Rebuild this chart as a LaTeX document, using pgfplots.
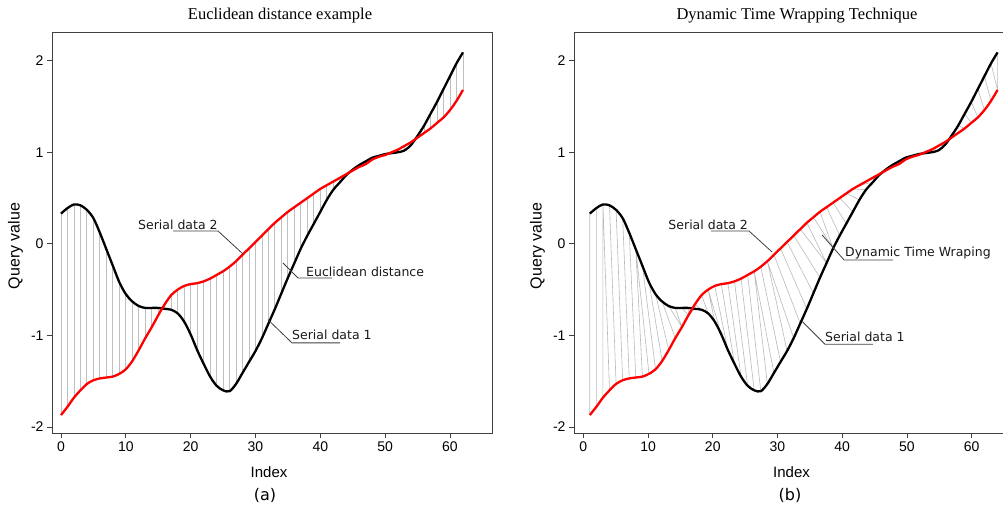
\documentclass[border=0pt]{standalone}
\usepackage{pgfplots}
\pgfplotsset{compat=1.18}
\usepackage{pgfplotstable}
\usepackage{fontspec}
\setmainfont{Liberation Sans}
\newfontfamily\verd{DejaVu Sans}
\newfontfamily\serifttl{Liberation Serif}

\pgfplotstableread{
k b r
0 0.33 -1.87
1 0.39 -1.78
2 0.43 -1.68
3 0.42 -1.60
4 0.37 -1.53
5 0.28 -1.49
6 0.12 -1.47
7 -0.06 -1.46
8 -0.24 -1.45
9 -0.42 -1.42
10 -0.55 -1.37
11 -0.63 -1.28
12 -0.68 -1.16
13 -0.70 -1.03
14 -0.70 -0.91
15 -0.70 -0.78
16 -0.71 -0.66
17 -0.72 -0.56
18 -0.76 -0.50
19 -0.85 -0.46
20 -0.99 -0.44
21 -1.16 -0.43
22 -1.31 -0.41
23 -1.45 -0.38
24 -1.55 -0.34
25 -1.60 -0.30
26 -1.61 -0.25
27 -1.53 -0.19
28 -1.41 -0.12
29 -1.29 -0.05
30 -1.17 0.02
31 -1.03 0.09
32 -0.87 0.16
33 -0.71 0.23
34 -0.54 0.29
35 -0.37 0.35
36 -0.21 0.40
37 -0.05 0.45
38 0.09 0.50
39 0.22 0.55
40 0.35 0.60
41 0.48 0.64
42 0.59 0.68
43 0.67 0.72
44 0.75 0.76
45 0.81 0.80
46 0.86 0.84
47 0.90 0.87
48 0.94 0.92
49 0.96 0.95
50 0.98 0.97
51 0.99 1.00
52 1.00 1.03
53 1.02 1.07
54 1.08 1.11
55 1.18 1.16
56 1.29 1.21
57 1.42 1.26
58 1.55 1.32
59 1.69 1.38
60 1.83 1.46
61 1.97 1.56
62 2.09 1.68
}\dtwdata

% Euclidean connections (same index)
\def\euclpath{}%
\foreach \i in {0,...,62}{%
  \pgfplotstablegetelem{\i}{b}\of\dtwdata\let\yb\pgfplotsretval
  \pgfplotstablegetelem{\i}{r}\of\dtwdata\let\yr\pgfplotsretval
  \xdef\euclpath{\euclpath (\i,\yb) (\i,\yr) (\i,nan)}%
}%

% DTW warping path (black index / red index)
\def\dtwpath{}%
\foreach \i/\j in {0/0,1/1,2/2,2/3,3/4,4/5,5/6,6/7,7/8,7/9,8/10,9/11,10/12,11/13,12/14,13/14,14/15,15/15,16/15,17/16,
18/17,19/18,20/18,21/19,22/20,23/21,24/22,25/23,26/24,27/25,28/25,29/26,30/27,31/27,32/28,33/29,34/30,35/31,36/32,36/33,37/34,37/35,38/36,39/37,40/38,41/39,42/40,43/41,44/42,44/43,45/44,46/45,47/46,48/47,49/48,50/49,51/50,52/51,53/52,54/53,54/54,55/55,56/56,56/57,57/58,58/59,59/60,60/61,61/62,62/62}{%
  \pgfplotstablegetelem{\i}{b}\of\dtwdata\let\yb\pgfplotsretval
  \pgfplotstablegetelem{\j}{r}\of\dtwdata\let\yr\pgfplotsretval
  \pgfmathsetmacro\xb{1+\i*63/62}%
  \pgfmathsetmacro\xr{1+\j*63/62}%
  \xdef\dtwpath{\dtwpath (\xb,\yb) (\xr,\yr) (\xb,nan)}%
}%

\pgfplotsset{myax/.style={
  scale only axis, width=440pt, height=401pt, anchor=south west,
  ymin=-2.066, ymax=2.313,
  xtick={0,10,...,60}, ytick={-2,-1,0,1,2},
  xtick pos=bottom, ytick pos=left, tick align=outside,
  major tick length=5pt,
  axis line style={black!75, line width=0.8pt},
  every tick/.style={black!75, line width=0.8pt},
  tick label style={font=\fontsize{14}{14}\selectfont, text=black},
  /pgf/number format/assume math mode=true,
}}
\tikzset{ann/.style={font=\verd\fontsize{12.5}{12.5}\selectfont, text=black!90, inner sep=0pt, anchor=base west},
  lead/.style={black!75, line width=0.8pt}}

\begin{document}
\begin{tikzpicture}
% ---------- left panel ----------
\begin{axis}[myax, at={(52pt,71pt)}, xmin=-1.388, xmax=66.48]
\edef\tmp{\noexpand\addplot[color=gray!50, line width=0.9pt, unbounded coords=jump, forget plot] coordinates {\euclpath};}\tmp
\addplot[black, line width=2.3pt, smooth, no marks] table[x=k, y=b]{\dtwdata};
\addplot[red, line width=2.3pt, smooth, no marks] table[x=k, y=r]{\dtwdata};
\node[ann] at (axis cs:11.88,0.151) {Serial data 2};
\draw[lead] (axis cs:17.28,0.140) -- (axis cs:24.22,0.140) -- (axis cs:28.07,-0.111);
\node[ann] at (axis cs:37.79,-0.362) {Euclidean distance};
\draw[lead] (axis cs:34.24,-0.209) -- (axis cs:36.56,-0.373) -- (axis cs:41.8,-0.373);
\node[ann] at (axis cs:35.63,-1.05) {Serial data 1};
\draw[lead] (axis cs:31.93,-0.829) -- (axis cs:35.63,-1.082) -- (axis cs:43.04,-1.082);
\end{axis}
% ---------- right panel ----------
\begin{axis}[myax, at={(574pt,71pt)}, xmin=-1.437, xmax=66.54]
\edef\tmp{\noexpand\addplot[color=gray!55, line width=0.6pt, unbounded coords=jump, forget plot] coordinates {\dtwpath};}\tmp
\addplot[black, line width=2.3pt, smooth, no marks] table[x expr=1+\thisrow{k}*63/62, y=b]{\dtwdata};
\addplot[red, line width=2.3pt, smooth, no marks] table[x expr=1+\thisrow{k}*63/62, y=r]{\dtwdata};
\node[ann] at (axis cs:13.13,0.151) {Serial data 2};
\draw[lead] (axis cs:19.73,0.140) -- (axis cs:25.6,0.140) -- (axis cs:29.15,-0.089);
\node[ann] at (axis cs:40.43,-0.144) {Dynamic Time Wraping};
\draw[lead] (axis cs:36.88,0.097) -- (axis cs:40.28,-0.176) -- (axis cs:47.85,-0.176);
\node[ann] at (axis cs:37.34,-1.068) {Serial data 1};
\draw[lead] (axis cs:33.79,-0.846) -- (axis cs:37.34,-1.097) -- (axis cs:44.75,-1.097);
\end{axis}
% ---------- titles and labels ----------
\node[font=\serifttl\fontsize{16.5}{16.5}\selectfont] at (280pt,488pt) {Euclidean distance example};
\node[font=\serifttl\fontsize{16.5}{16.5}\selectfont] at (797pt,488pt) {Dynamic Time Wrapping Technique};
\node[font=\fontsize{16}{16}\selectfont, rotate=90] at (15.5pt,258pt) {Query value};
\node[font=\fontsize{16}{16}\selectfont, rotate=90] at (537.5pt,258pt) {Query value};
\node[font=\fontsize{15}{15}\selectfont] at (269pt,31.5pt) {Index};
\node[font=\fontsize{15}{15}\selectfont] at (791.5pt,31.5pt) {Index};
\node[font=\verd\fontsize{16}{16}\selectfont] at (265pt,9pt) {(a)};
\node[font=\verd\fontsize{16}{16}\selectfont] at (790pt,9pt) {(b)};
\pgfresetboundingbox
\path[use as bounding box] (0pt,0pt) rectangle (1003pt,504pt);
\end{tikzpicture}
\end{document}
